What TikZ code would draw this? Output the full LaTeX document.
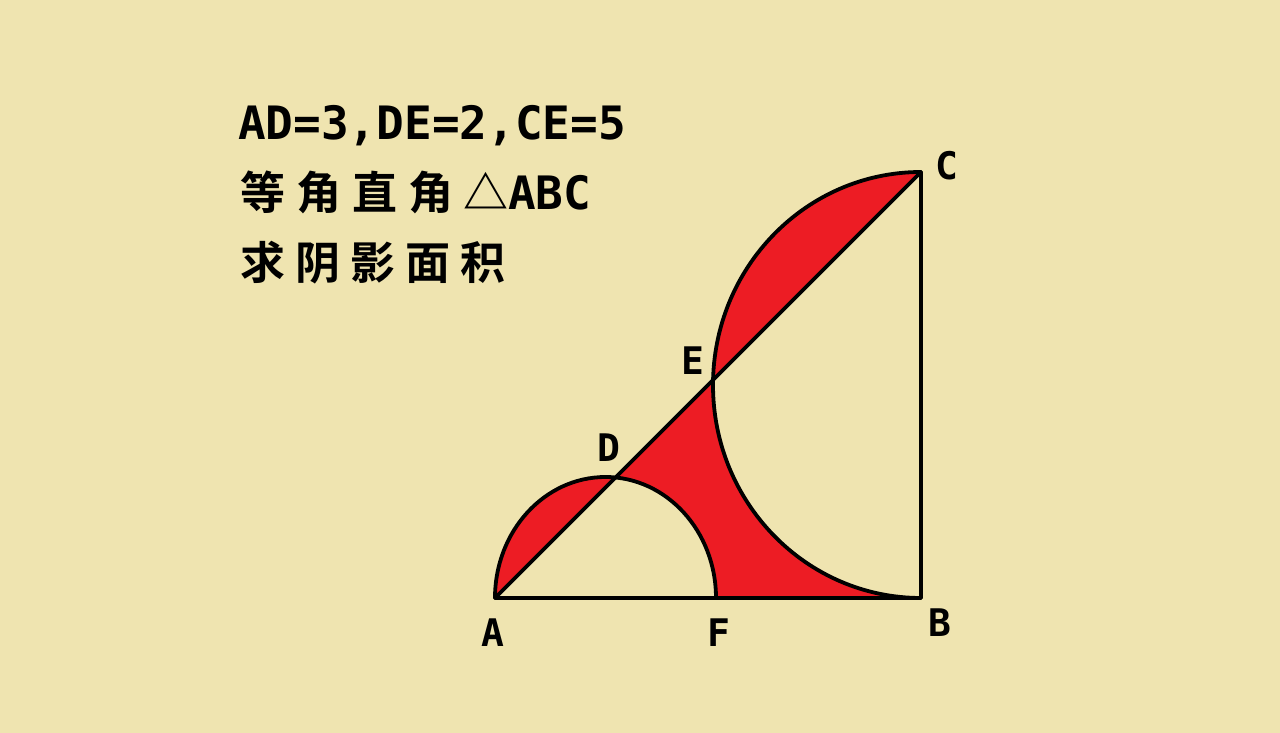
\documentclass[tikz,border=0pt]{standalone}
\usepackage{fontspec}
\newfontfamily\cjk{Noto Sans CJK SC}[BoldFont={* Bold}]
\newfontfamily\monob{DejaVu Sans Mono}[BoldFont={* Bold}]
\definecolor{bg}{RGB}{239,228,176}
\definecolor{redfill}{RGB}{237,28,36}
\begin{document}
\begin{tikzpicture}[x=1pt,y=1pt,
  edge/.style={line width=3.8pt,line join=round,line cap=round},
  lbl/.style={font=\monob\bfseries\fontsize{38}{38}\selectfont,inner sep=0pt},
  txt/.style={anchor=base west,inner sep=0pt}]
\fill[bg] (0,0) rectangle (1280,733);
\useasboundingbox (0,0) rectangle (1280,733);
% points
\coordinate (A) at (495,135);
\coordinate (B) at (921,135);
\coordinate (C) at (921,561);
\coordinate (F) at (716,135);
\coordinate (D) at (615.5,255.5);
\coordinate (E) at (713.06,353.05);
% shaded regions
\fill[redfill] (A) arc[start angle=180,end angle=84.8,x radius=110.5pt,y radius=121pt] -- cycle;
\fill[redfill] (E) arc[start angle=178.64,end angle=90,x radius=208pt,y radius=213pt] -- cycle;
\fill[redfill] (D) -- (E) arc[start angle=178.64,end angle=270,x radius=208pt,y radius=213pt]
  -- (F) arc[start angle=0,end angle=84.8,x radius=110.5pt,y radius=121pt] -- cycle;
% outlines
\draw[edge] (A) -- (B) -- (C) -- cycle;
\draw[edge] (A) arc[start angle=180,end angle=0,x radius=110.5pt,y radius=121pt];
\draw[edge] (B) arc[start angle=270,end angle=90,x radius=208pt,y radius=213pt];
% labels
\node[lbl] (lA) at (493,100) {A};
\node[lbl] (lF) at (719,100) {F};
\node[lbl] (lB) at (940,110) {B};
\node[lbl] (lC) at (947,567) {C};
\node[lbl] (lD) at (609,285) {D};
\node[lbl] (lE) at (693,372) {E};
% texts
\node[txt] (t1) at (238,593) {\monob\bfseries\fontsize{46}{46}\selectfont AD=3,DE=2,CE=5};
\node[txt] (t2) at (240,523) {\cjk\bfseries\fontsize{45}{45}\selectfont 等\hspace{11pt}角\hspace{11pt}直\hspace{11pt}角\hspace{10pt}△\monob\bfseries\fontsize{46}{46}\selectfont ABC};
\node[txt] (t3) at (240,453) {\cjk\bfseries\fontsize{45}{45}\selectfont 求\hspace{10pt}阴\hspace{10pt}影\hspace{10pt}面\hspace{10pt}积};
\end{tikzpicture}
\end{document}
